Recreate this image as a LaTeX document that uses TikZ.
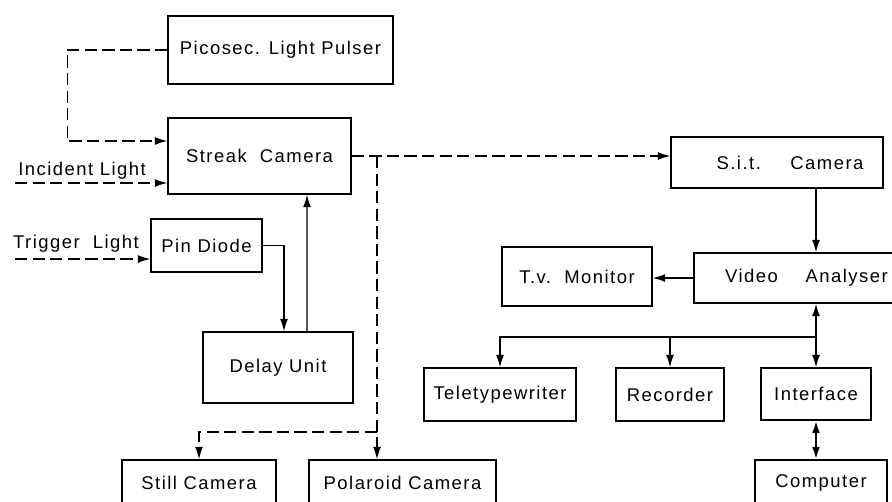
\documentclass[tikz,border=0pt]{standalone}
\usepackage{fontspec}
\setmainfont[LetterSpace=8]{Liberation Sans}
\usetikzlibrary{calc,arrows.meta}

\begin{document}
\begin{tikzpicture}[x=0.02cm,y=-0.02cm,line width=0.7pt,
  blk/.style={draw,line width=0.9pt,font=\fontsize{10.5}{12}\selectfont},
  lbl/.style={font=\fontsize{10.5}{12}\selectfont},
  dsh/.style={dash pattern=on 7pt off 3pt},
  >={Latex[length=7pt,width=4.5pt]}]
\clip (0,0) rectangle (892,501);
% left half
\node[blk,minimum width=4.5cm,minimum height=1.36cm] (pulser) at (280.5,50) {Picosec. Light Pulser};
\node[blk,minimum width=3.66cm,minimum height=1.52cm] (streak) at (259.5,156) {Streak\ \ Camera};
\node[blk,minimum width=2.22cm,minimum height=1.06cm] (pin) at (206.5,245.5) {Pin Diode};
\node[blk,minimum width=3cm,minimum height=1.42cm] (delay) at (278,367.5) {Delay Unit};
\node[blk,minimum width=3.08cm,minimum height=0.92cm] (still) at (199,483) {Still Camera};
\node[blk,minimum width=3.74cm,minimum height=0.92cm] (polaroid) at (402.5,483) {Polaroid Camera};
\node[lbl] (inclbl) at (82,171) {Incident\ Light};
\node[lbl] (triglbl) at (76,244) {Trigger\ \ Light};
% right half
\node[blk,minimum width=4.24cm,minimum height=1.02cm] (sit) at (777,162.5) {\hspace{0.52cm}S.i.t.\hspace{1.6em}Camera};
\node[blk,minimum width=4.3cm,minimum height=1cm] (video) at (801.5,278) {\hspace{0.2cm}Video\hspace{1.5em}Analyser};
\node[blk,minimum width=3cm,minimum height=1.18cm] (tv) at (577,276.5) {T.v.\ \ Monitor};
\node[blk,minimum width=3.04cm,minimum height=1.06cm] (tele) at (500,394.5) {Teletypewriter};
\node[blk,minimum width=2.16cm,minimum height=1.06cm] (rec) at (670,394.5) {Recorder};
\node[blk,minimum width=2.2cm,minimum height=1.04cm] (iface) at (816,394) {Interface};
\node[blk,minimum width=2.64cm,minimum height=0.92cm] (comp) at (821,483) {Computer};
\coordinate (incin) at (15,183);
\coordinate (trigin) at (15,259);
\coordinate (split) at (377,432);
\coordinate (bus) at (816,337);
% connectors
\draw[dsh,->] (pulser.west) -- ++(-100,0) |- ($(streak.west)+(0,-15)$);
\draw[dsh,->] (incin) -- (incin -| streak.west);
\draw[dsh,->] (trigin) -- (trigin -| pin.west);
\draw[->] (pin.east) -| ($(delay.north)+(6,0)$);
\draw[->] ($(delay.north)+(29,0)$) -- ($(streak.south)+(47.5,0)$);
\draw[dsh,->] (streak.east) -- (streak.east -| sit.west);
\draw[dsh,->] (streak.east -| split) -- (split |- polaroid.north);
\draw[dsh,->] (split) -| (still.north);
\draw[->] (sit.south -| bus) -- (video.north -| bus);
\draw[->] (video.west) -- (video.west -| tv.east);
\draw[<->] (video.south -| bus) -- (iface.north -| bus);
\draw[->] (bus) -| (tele.north);
\draw[->] (bus) -| (rec.north);
\draw[<->,line width=1.2pt] (iface.south) -- (iface.south |- comp.north);
\end{tikzpicture}
\end{document}
